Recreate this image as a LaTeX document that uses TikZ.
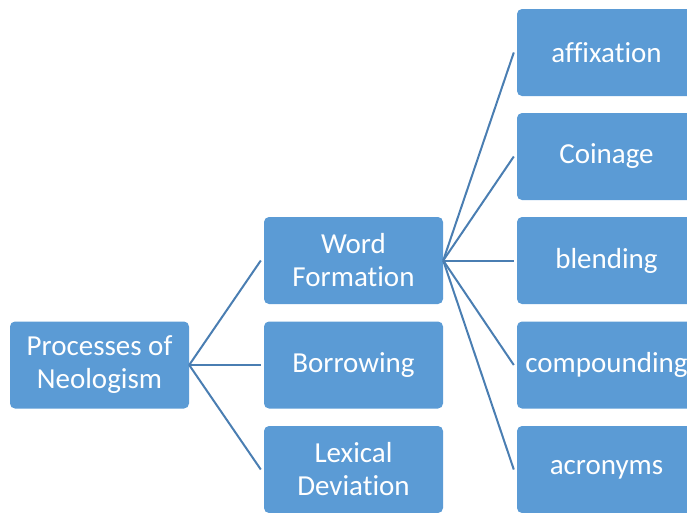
\documentclass[tikz,border=0pt]{standalone}
\usepackage{fontspec}
\setmainfont[Ligatures={NoCommon}]{Carlito}
\definecolor{boxfill}{HTML}{5B9BD5}
\definecolor{linecol}{HTML}{4A7EB2}
\begin{document}
\begin{tikzpicture}[x=1pt,y=-1pt,
  box/.style={draw=none,fill=boxfill,rounded corners=5pt,minimum width=179pt,minimum height=87pt,
    text=white,font=\fontsize{29}{33}\selectfont,align=center,inner sep=0pt},
  conn/.style={draw=linecol,line width=2pt}]
\useasboundingbox (0,0) rectangle (687,512);
\node[box] (root) at (99.5,365) {Processes of\\Neologism};
\node[box] (wf) at (353.5,260.5) {Word\\Formation};
\node[box] (bor) at (353.5,365) {Borrowing};
\node[box] (lex) at (353.5,469.5) {Lexical\\Deviation};
\node[box] (aff) at (606.5,52.5) {affixation};
\node[box] (coi) at (606.5,156.5) {Coinage};
\node[box] (ble) at (606.5,260.5) {blending};
\node[box] (com) at (606.5,365) {compounding};
\node[box] (acr) at (606.5,469.5) {acronyms};
\foreach \c in {wf,bor,lex}
  \draw[conn] (root.east) -- ([xshift=-3pt]\c.west);
\foreach \c in {aff,coi,ble,com,acr}
  \draw[conn] (wf.east) -- ([xshift=-3pt]\c.west);
\end{tikzpicture}
\end{document}
